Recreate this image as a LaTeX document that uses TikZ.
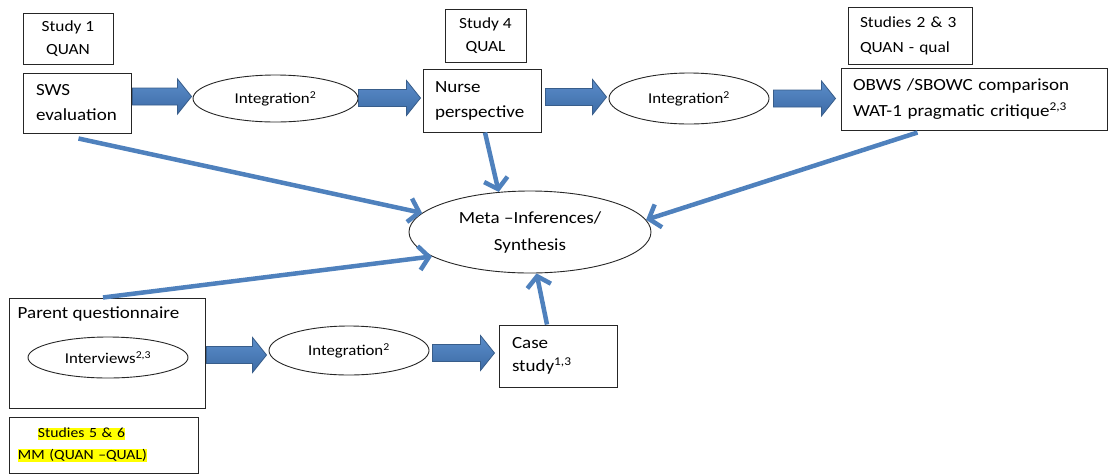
\documentclass[tikz,border=0pt]{standalone}
\usepackage{fontspec}
\setmainfont{Carlito}[FakeStretch=1.12]
\usetikzlibrary{calc,arrows.meta,shapes.geometric}
\hyphenpenalty=10000
\exhyphenpenalty=10000

\definecolor{officeblue}{HTML}{4F81BD}
\definecolor{arrowedge}{HTML}{385D8A}
\definecolor{arrowtop}{HTML}{5B8DCA}
\definecolor{arrowbot}{HTML}{3C6AA5}
\definecolor{marker}{HTML}{FFFF00}
\setlength{\fboxsep}{0pt}

\tikzset{
  box/.style={draw=black!85, line width=1pt, inner ysep=0pt},
  oval/.style={ellipse, draw=black!85, line width=0.9pt, inner sep=0pt},
  maintext/.style={font=\fontsize{17}{25}\selectfont},
  smalltext/.style={font=\fontsize{15.5}{23}\selectfont},
  ovaltext/.style={font=\fontsize{15}{17}\selectfont},
  feed/.style={draw=officeblue, line width=4.5pt,
    -{Straight Barb[length=10pt,width=24pt]}},
  blockfill/.style={draw=arrowedge, line width=0.8pt, line join=miter,
    top color=arrowtop, bottom color=arrowbot}
}

% thick block arrow from #1 to #2, kept on the height of #1
\newcommand\blockarrow[2]{%
  \path[blockfill] let \p1=(#1), \p2=(#2) in
    (\x1,\y1+8.5pt) -- (\x2-14pt,\y1+8.5pt) -- (\x2-14pt,\y1+17.5pt)
    -- (\x2,\y1) -- (\x2-14pt,\y1-17.5pt) -- (\x2-14pt,\y1-8.5pt)
    -- (\x1,\y1-8.5pt) -- cycle;}

\newcommand\hl[1]{\colorbox{marker}{\vphantom{Qy}#1}}

\begin{document}
\begin{tikzpicture}[x=1pt,y=-1pt]
  \useasboundingbox (0,0) rectangle (1111,475);

  % study labels
  \node[box, smalltext, minimum width=90pt, minimum height=51pt, align=center]
    (s1) at (68,38.5) {Study 1\\QUAN};
  \node[box, smalltext, minimum width=81pt, minimum height=53pt, align=center]
    (s4) at (485.5,35.5) {Study 4\\QUAL};
  \node[box, smalltext, minimum width=124pt, minimum height=57pt, align=left,
    inner xsep=12pt, text width=100pt, font=\fontsize{15.5}{25}\selectfont]
    (s23) at (910,35.5) {Studies 2 \& 3\\QUAN - qual};
  \node[box, minimum width=189pt, minimum height=56pt, align=left,
    inner xsep=9pt, text width=171pt, font=\fontsize{14}{21.5}\selectfont]
    (s56) at (103.5,445) {\hspace*{20pt}\hl{Studies 5 \& 6}\\\hl{MM (QUAN –QUAL)}};

  % top row
  \node[box, maintext, minimum width=108pt, minimum height=60pt, align=left,
    inner xsep=13pt, text width=82pt]
    (sws) at (77,103) {SWS\\evaluation};
  \node[oval, ovaltext, minimum width=165pt, minimum height=47pt]
    (int1) at (275.5,98.5) {Integration\textsuperscript{2}};
  \node[box, maintext, minimum width=118pt, minimum height=63pt, align=left,
    inner xsep=12pt, text width=94pt]
    (nurse) at (482,100.5) {Nurse\\perspective};
  \node[oval, ovaltext, minimum width=160pt, minimum height=51pt]
    (int2) at (689,98.5) {Integration\textsuperscript{2}};
  \node[box, maintext, minimum width=266pt, minimum height=62pt, align=left,
    inner xsep=12pt, text width=242pt, font=\fontsize{17}{26}\selectfont]
    (obws) at (974,99) {OBWS /SBOWC comparison\\WAT-1 pragmatic critique\textsuperscript{2,3}};

  % centre
  \node[oval, minimum width=242pt, minimum height=82pt, align=center,
    font=\fontsize{17}{27}\selectfont]
    (meta) at (530,232) {Meta –Inferences/\\Synthesis};

  % bottom row
  \node[box, minimum width=196pt, minimum height=110pt] (parent) at (107,353) {};
  \node[maintext, anchor=north west, inner sep=0pt]
    (parentlbl) at ($(parent.north west)+(9,9)$) {Parent questionnaire};
  \node[oval, ovaltext, minimum width=160pt, minimum height=41pt]
    (interv) at (108,357.5) {Interviews\textsuperscript{2,3}};
  \node[oval, ovaltext, minimum width=160pt, minimum height=49pt]
    (int3) at (349,350.5) {Integration\textsuperscript{2}};
  \node[box, maintext, minimum width=118pt, minimum height=62pt, align=left,
    inner xsep=13pt, text width=92pt, font=\fontsize{17}{23}\selectfont]
    (case) at (558,356) {Case\\study\textsuperscript{1,3}};

  % block arrow ends
  \coordinate (a1s) at ($(sws.east)+(1,-6.5)$);
  \coordinate (a1e) at ($(int1.west)+(-1,0)$);
  \coordinate (a2s) at ($(int1.east)+(0,-0.5)$);
  \coordinate (a2e) at ($(nurse.west)+(-2,0)$);
  \coordinate (a3s) at ($(nurse.east)+(4,-3.5)$);
  \coordinate (a3e) at ($(int2.west)+(-2,0)$);
  \coordinate (a4s) at ($(int2.east)+(4,0)$);
  \coordinate (a4e) at ($(obws.west)+(-5,0)$);
  \coordinate (a5s) at ($(parent.east)+(1,2)$);
  \coordinate (a5e) at ($(int3.west)+(-2,0)$);
  \coordinate (a6s) at ($(int3.east)+(3,2.5)$);
  \coordinate (a6e) at ($(case.west)+(-4,0)$);

  \blockarrow{a1s}{a1e}
  \blockarrow{a2s}{a2e}
  \blockarrow{a3s}{a3e}
  \blockarrow{a4s}{a4e}
  \blockarrow{a5s}{a5e}
  \blockarrow{a6s}{a6e}

  % feeds into the meta-inferences
  \coordinate (swsout) at ($(sws.south west)+(56,5)$);
  \coordinate (nurseout) at ($(nurse.south)+(3,0)$);
  \coordinate (obwsout) at ($(obws.south west)+(77,2)$);
  \coordinate (parentout) at ($(parent.north)+(-4,0)$);
  \coordinate (caseout) at ($(case.north)+(-11,0)$);

  \draw[feed] (swsout) -- (meta.170);
  \draw[feed] (nurseout) -- (meta.128);
  \draw[feed] (obwsout) -- (meta.6);
  \draw[feed] (parentout) -- (meta.194);
  \draw[feed] (caseout) -- (meta.279);
\end{tikzpicture}
\end{document}
